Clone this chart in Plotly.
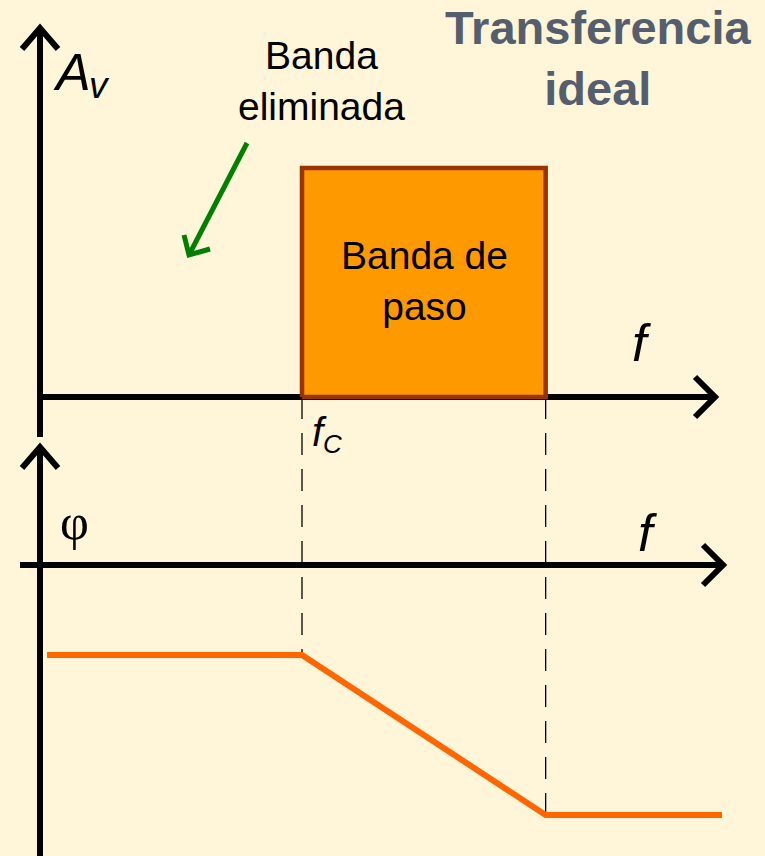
import plotly.graph_objects as go

# ---------------- data ----------------
band_edges = [1.0, 1.93]              # f_C and upper cut-off (normalised frequency)
band_gain = 1.0                        # |Av| inside the pass band
phase_freq = [0.027, 1.0, 1.93, 2.603] # frequencies of the phase curve breakpoints
phase_vals = [-0.36, -0.36, -1.0, -1.0]
title_lines = ["Transferencia", "ideal"]
stop_label = ["Banda", "eliminada"]
pass_label = ["Banda de", "paso"]

# ---------------- layout mapping (pixels <-> data) ----------------
W, H = 765, 856
X_ORG, X_SCALE = 40, 262
Y1_ORG, Y1_SCALE = 397, 229
Y2_ORG, Y2_SCALE = 565, 250

def fx(px):
    return (px - X_ORG) / X_SCALE

def fy1(py):
    return (Y1_ORG - py) / Y1_SCALE

def fy2(py):
    return (Y2_ORG - py) / Y2_SCALE

def phase_to_y1(phi):
    return fy1(Y2_ORG - Y2_SCALE * phi)

BG = "#FFF5D8"
FONT = "Liberation Sans"

fig = go.Figure()

def seg(pxs, pys, color="black", width=6, dash=None):
    fig.add_trace(go.Scatter(
        x=[fx(p) for p in pxs], y=[fy1(p) for p in pys], mode="lines",
        line=dict(color=color, width=width, dash=dash),
        hoverinfo="skip", showlegend=False))

# dashed guide lines from the amplitude axis down to the phase curve
for f, ph in [(band_edges[0], phase_vals[1]), (band_edges[1], phase_vals[2])]:
    fig.add_trace(go.Scatter(
        x=[f, f], y=[0, phase_to_y1(ph)], mode="lines",
        line=dict(color="black", width=1.3, dash="22px,14px"),
        hoverinfo="skip", showlegend=False))

# axes (drawn as lines with open chevron heads)
seg([40, 40], [437, 28])
seg([22, 40, 58], [49, 28, 49])
seg([40, 715], [397, 397])
seg([695, 715, 695], [377, 397, 417])
seg([40, 40], [870, 447])
seg([22, 40, 58], [468, 447, 468])
seg([20, 723], [565, 565])
seg([703, 723, 703], [545, 565, 585])

# pass band rectangle
fig.add_trace(go.Scatter(
    x=[band_edges[0], band_edges[0], band_edges[1], band_edges[1], band_edges[0]],
    y=[0, band_gain, band_gain, 0, 0],
    mode="lines", fill="toself", fillcolor="#FF9900",
    line=dict(color="#993300", width=4.5),
    hoverinfo="skip", showlegend=False))

# phase curve
fig.add_trace(go.Scatter(
    x=phase_freq, y=phase_vals, yaxis="y2", mode="lines",
    line=dict(color="#FF6600", width=6),
    hoverinfo="skip", showlegend=False))

# green pointer arrow
seg([247, 189], [143, 255], color="#008000", width=5)
seg([184, 189, 210], [235, 255, 249], color="#008000", width=5)

def txt(px, py, text, size, color="black", family=FONT, italic=False, bold=False):
    if italic:
        text = "<i>" + text + "</i>"
    if bold:
        text = "<b>" + text + "</b>"
    fig.add_annotation(x=px / W, y=1 - py / H, xref="paper", yref="paper",
                       text=text, showarrow=False, xanchor="center", yanchor="middle",
                       font=dict(size=size, color=color, family=family))

txt(598, 58, "<br>".join(title_lines), 47, color="#555E6C", bold=True)
txt(321, 81, "<br>".join(stop_label), 39)
txt(424, 281, "<br>".join(pass_label), 39)
txt(72, 72, "A", 52, italic=True)
txt(99, 86, "v", 37, italic=True)
txt(74, 522, "φ", 50, family="Liberation Serif")
txt(641, 343, "f", 52, italic=True)
txt(647, 533, "f", 52, italic=True)
txt(319, 432, "f", 40, italic=True)
txt(332, 444, "C", 26, italic=True)

fig.update_layout(
    width=W, height=H, margin=dict(l=0, r=0, t=0, b=0),
    paper_bgcolor=BG, plot_bgcolor=BG,
    xaxis=dict(range=[fx(0), fx(W)], visible=False, fixedrange=True),
    yaxis=dict(range=[fy1(H), fy1(0)], visible=False, fixedrange=True),
    yaxis2=dict(range=[fy2(H), fy2(0)], visible=False, overlaying="y", fixedrange=True),
    showlegend=False,
)

fig.write_html("out.html", config={"displayModeBar": False},
               post_script="document.body.style.margin='0';")
